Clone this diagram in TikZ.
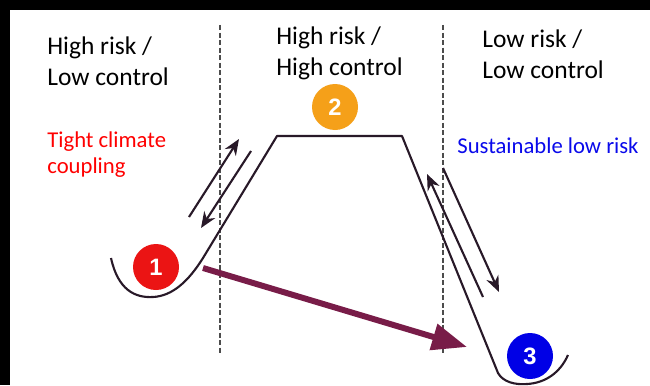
\documentclass[tikz,border=0pt]{standalone}
\usepackage{fontspec}
\setmainfont{Carlito}
\newfontfamily\digitfont{Liberation Sans}
\usetikzlibrary{arrows.meta}
\definecolor{ridgeline}{RGB}{40,25,40}
\definecolor{shiftpurple}{RGB}{120,28,72}
\definecolor{ballred}{RGB}{235,20,20}
\definecolor{ballorange}{RGB}{245,160,25}
\definecolor{ballblue}{RGB}{0,0,230}
\definecolor{noteblue}{RGB}{10,10,235}

\begin{document}
\begin{tikzpicture}[
  ball/.style={circle, minimum size=0.92cm, inner sep=0pt, text=white,
    font=\digitfont\bfseries\fontsize{13.5}{16}\selectfont},
  headtext/.style={anchor=base west, align=left, inner sep=0pt,
    font=\fontsize{14.5}{17.4}\selectfont},
  notetext/.style={anchor=base west, align=left, inner sep=0pt,
    font=\fontsize{12.9}{14.7}\selectfont},
  divider/.style={dash pattern=on 0.1cm off 0.05cm, line width=0.7pt, black!70},
  ridge/.style={line width=1.2pt, ridgeline, line join=round},
  arrow/.style={-{Stealth[length=0.32cm, width=0.26cm]}, line width=1.2pt, ridgeline},
  shiftarrow/.style={-{Triangle[length=0.7cm, width=0.52cm]}, line width=3.4pt, shiftpurple}
]
  % page with black strips on top and left
  \useasboundingbox (0,0) rectangle (13,7.7);
  \fill[white] (0,0) rectangle (13,7.7);
  \fill[black] (0,7.5) rectangle (13,7.7);
  \fill[black] (0,0) rectangle (0.2,7.7);

  % zone dividers
  \foreach \x/\y in {4.4/0.6, 8.86/0.64}
    \draw[divider] (\x,7.2) -- (\x,\y);

  % zone headings (placed by the baseline of the last line)
  \node[headtext] (zoneA) at (0.94,6.0) {High risk /\\Low control};
  \node[headtext] (zoneB) at (5.52,6.2) {High risk /\\High control};
  \node[headtext] (zoneC) at (9.64,6.14) {Low risk /\\Low control};

  \node[notetext, text=red] (tight) at (0.94,4.24) {Tight climate\\coupling};
  \node[notetext, text=noteblue] (sust) at (9.14,4.64) {Sustainable low risk};

  % landscape: valley, plateau, valley
  \draw[ridge] (2.22,2.54) .. controls (2.36,1.90) and (2.70,1.74) .. (3.06,1.76)
    .. controls (3.44,1.78) and (3.76,2.06) .. (4.06,2.54)
    -- (5.54,4.98) -- (8.04,4.98) -- (9.96,0.24)
    .. controls (10.06,0.06) and (10.30,0.0) .. (10.54,0.02)
    .. controls (10.90,0.04) and (11.2,0.24) .. (11.36,0.60);

  % states
  \node[ball, fill=ballred] (s1) at (3.12,2.36) {1};
  \node[ball, fill=ballorange] (s2) at (6.7,5.56) {2};
  \node[ball, fill=ballblue] (s3) at (10.6,0.58) {3};

  % back and forth along the slopes
  \coordinate (l1) at (3.78,3.36);
  \coordinate (l2) at (4.78,4.92);
  \coordinate (l3) at (5.02,4.68);
  \coordinate (l4) at (4.02,3.14);
  \coordinate (r1) at (9.66,1.76);
  \coordinate (r2) at (8.54,4.22);
  \coordinate (r3) at (8.86,4.34);
  \coordinate (r4) at (9.98,1.86);
  \draw[arrow] (l1) -- (l2);
  \draw[arrow] (l3) -- (l4);
  \draw[arrow] (r1) -- (r2);
  \draw[arrow] (r3) -- (r4);

  % shift from state 1 towards state 3
  \coordinate (p1) at (4.06,2.34);
  \coordinate (p3) at (9.34,0.76);
  \draw[shiftarrow] (p1) -- (p3);
\end{tikzpicture}
\end{document}
